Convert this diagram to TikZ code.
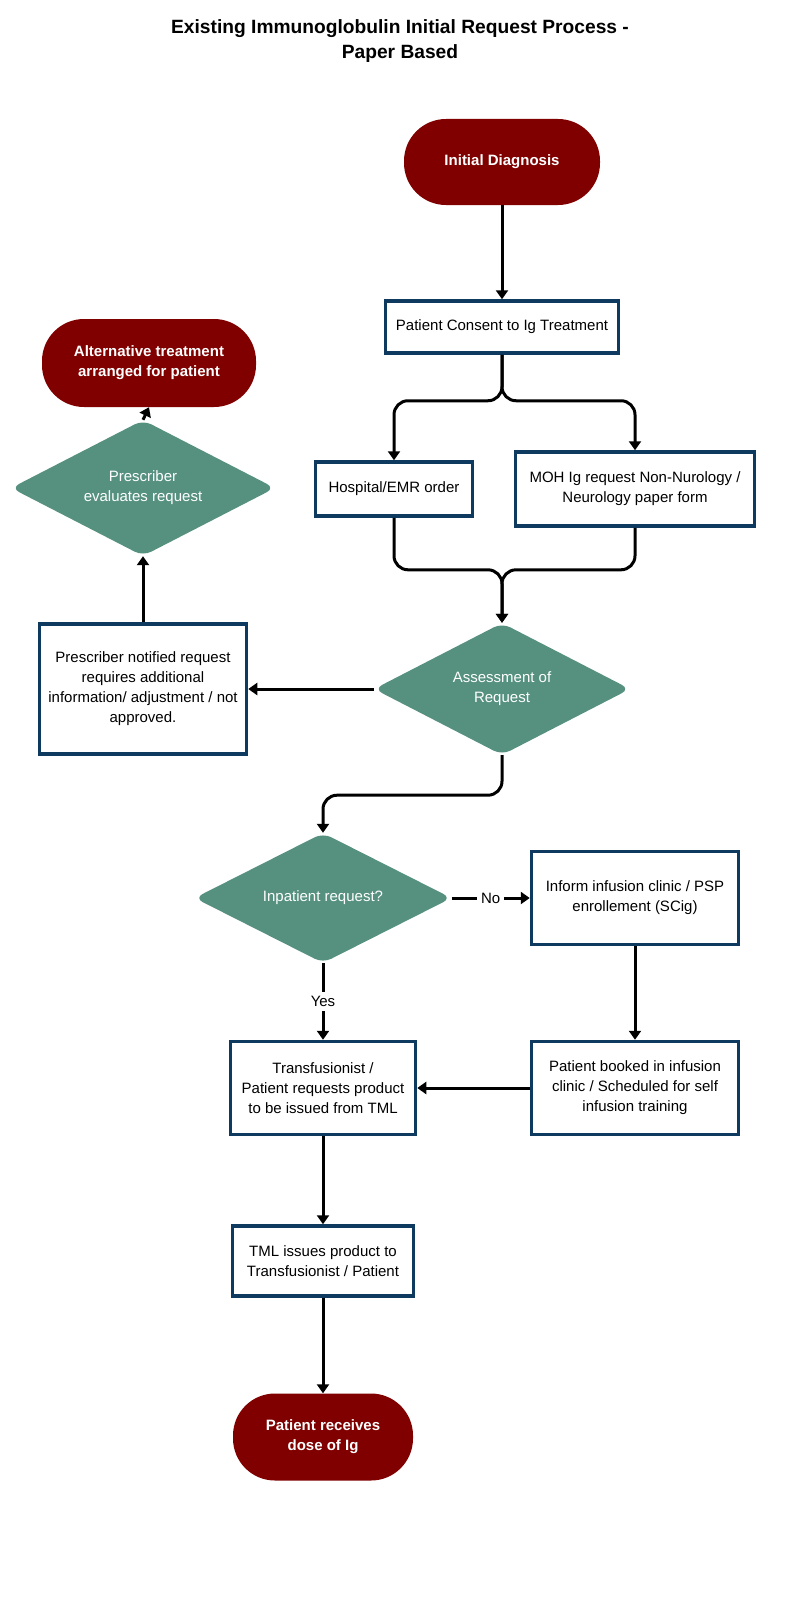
\documentclass[tikz,border=0pt]{standalone}
\usepackage{fontspec}
\setmainfont{Liberation Sans}
\usetikzlibrary{shapes.geometric,arrows.meta}
\definecolor{oval-red}{HTML}{800000}
\definecolor{decision-green}{HTML}{56917F}
\definecolor{box-blue}{HTML}{0F3A5F}
\tikzset{
    process-box/.style = {draw=box-blue, fill=white, line width=3.5pt, rectangle, align=center, inner sep=0pt, font=\fontsize{15}{20}\selectfont},
    end-oval/.style = {fill=oval-red, text=white, rectangle, rounded corners=42pt, align=center, inner sep=0pt, font=\bfseries\fontsize{15}{20}\selectfont},
    decision/.style = {fill=decision-green, text=white, diamond, aspect=2, rounded corners=9pt, inner sep=0pt, align=center, font=\fontsize{15}{20}\selectfont},
    flow-line/.style = {draw=black, line width=3pt, -{Triangle[width=12pt,length=9pt]}},
}
\begin{document}
\begin{tikzpicture}[x=1pt,y=-1pt]
\useasboundingbox (0,0) rectangle (800,1600);
\node[align=center, font=\bfseries\fontsize{19.2}{25.5}\selectfont] (title) at (400,41) {Existing Immunoglobulin Initial Request Process -\\Paper Based};

\node[end-oval, minimum width=196, minimum height=86] (diagnosis) at (502,162) {Initial Diagnosis};
\node[process-box, minimum width=233, minimum height=52] (consent) at (502,327) {Patient Consent to Ig Treatment};
\node[process-box, minimum width=157, minimum height=54] (hospital) at (394,489) {Hospital/EMR order};
\node[process-box, minimum width=239, minimum height=74] (moh) at (635,489) {MOH Ig request Non-Nurology /\\Neurology paper form};
\node[decision, minimum width=256, minimum height=132] (assess) at (502,689) {Assessment of\\Request};
\node[process-box, minimum width=207, minimum height=130] (notified) at (143,689) {Prescriber notified request\\requires additional\\information/ adjustment / not\\approved.};
\node[decision, minimum width=264, minimum height=136] (evaluates) at (143,488) {Prescriber\\evaluates request};
\node[end-oval, minimum width=214, minimum height=88] (alternative) at (149,363) {Alternative treatment\\arranged for patient};
\node[decision, minimum width=257, minimum height=130] (inpatient) at (323,898) {Inpatient request?};
\node[process-box, minimum width=207, minimum height=93] (inform) at (635,898) {Inform infusion clinic / PSP\\enrollement (SCig)};
\node[process-box, minimum width=207, minimum height=93] (booked) at (635,1088) {Patient booked in infusion\\clinic / Scheduled for self\\infusion training};
\node[process-box, minimum width=185, minimum height=93] (transfusionist) at (323,1088) {Transfusionist /\\Patient requests product\\to be issued from TML};
\node[process-box, minimum width=181, minimum height=70] (tml) at (323,1261) {TML issues product to\\Transfusionist / Patient};
\node[end-oval, minimum width=180, minimum height=87] (receives) at (323,1437) {Patient receives\\dose of Ig};

% split and merge points
\coordinate (split) at ([yshift=-46pt]consent.south);
\coordinate (merge) at ([yshift=53pt]assess.north);

\draw[flow-line] (diagnosis) -- (consent);
\draw[flow-line, rounded corners=14pt] (consent.south) -- (split) -| (hospital.north);
\draw[flow-line, rounded corners=14pt] (consent.south) -- (split) -| (moh.north);
\draw[flow-line, rounded corners=14pt] (hospital.south) |- (merge) -- (assess.north);
\draw[flow-line, rounded corners=14pt] (moh.south) |- (merge) -- (assess.north);
\draw[flow-line] (assess.west) -- (notified.east);
\draw[flow-line] (notified.north) -- (evaluates.south);
\draw[flow-line] (evaluates.north) -- (alternative.south);
\draw[flow-line, rounded corners=14pt] (assess.south) -- ++(0,40) -| (inpatient.north);
\draw[flow-line] (inpatient.east) -- node[fill=white, inner sep=4pt, font=\fontsize{15}{20}\selectfont] (no) {No} (inform.west);
\draw[flow-line] (inpatient.south) -- node[fill=white, inner sep=4pt, font=\fontsize{15}{20}\selectfont] (yes) {Yes} (transfusionist.north);
\draw[flow-line] (inform) -- (booked);
\draw[flow-line] (booked) -- (transfusionist);
\draw[flow-line] (transfusionist) -- (tml);
\draw[flow-line] (tml) -- (receives);
\end{tikzpicture}
\end{document}
